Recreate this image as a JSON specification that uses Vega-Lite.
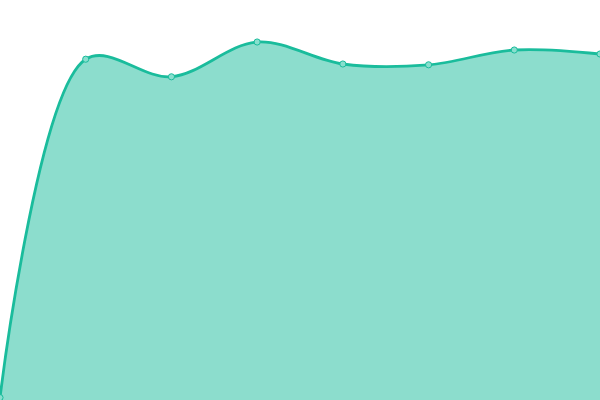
{
  "$schema": "https://vega.github.io/schema/vega-lite/v6.json",
  "width": 600,
  "height": 400,
  "padding": 0,
  "autosize": {"type": "none"},
  "config": {"view": {"stroke": null}},
  "data": {
    "values": [
      {"i": 0, "v": 0.6},
      {"i": 1, "v": 85.2},
      {"i": 2, "v": 80.8},
      {"i": 3, "v": 89.5},
      {"i": 4, "v": 84.0},
      {"i": 5, "v": 83.8},
      {"i": 6, "v": 87.5},
      {"i": 7, "v": 86.5}
    ]
  },
  "encoding": {
    "x": {"field": "i", "type": "quantitative", "scale": {"domain": [0, 7], "nice": false, "zero": false}, "axis": null},
    "y": {"field": "v", "type": "quantitative", "scale": {"domain": [0, 100], "nice": false}, "axis": null}
  },
  "layer": [
    {
      "mark": {"type": "area", "interpolate": "catmull-rom", "color": "#1abc9c", "opacity": 0.5}
    },
    {
      "mark": {"type": "line", "interpolate": "catmull-rom", "color": "#1abc9c", "strokeWidth": 2.8}
    },
    {
      "mark": {"type": "point", "filled": true, "size": 38, "fill": "#88dfce", "stroke": "#1abc9c", "strokeWidth": 1, "opacity": 1}
    }
  ]
}
